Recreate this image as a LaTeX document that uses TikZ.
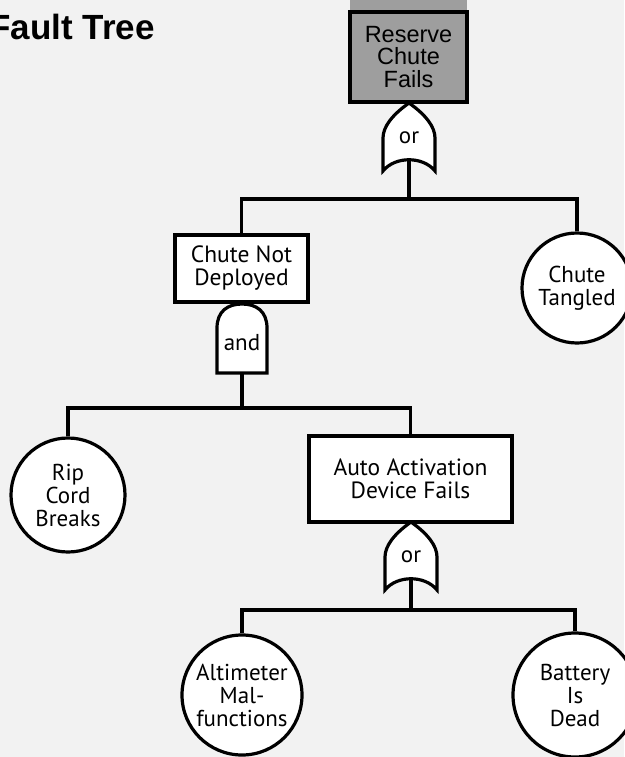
\documentclass[tikz,border=0pt]{standalone}
\usepackage{fontspec}
\newfontfamily\titlefont{Liberation Sans}
\newfontfamily\treefont{PT Sans}

\tikzset{
  conn/.style={line width=3.2pt},
  topevent/.style={rectangle,draw,line width=3.2pt,fill=black!38,inner sep=0pt,align=center,
    font=\titlefont\fontsize{23.5}{22.5}\selectfont},
  event/.style={rectangle,draw,line width=3.2pt,fill=white,inner sep=0pt,align=center,
    font=\treefont\fontsize{23.5}{23}\selectfont},
  basic/.style={circle,draw,line width=3.2pt,fill=white,inner sep=0pt,align=center,
    font=\treefont\fontsize{23}{23}\selectfont},
  gatelabel/.style={font=\treefont\fontsize{23}{23}\selectfont,inner sep=0pt},
  orgate/.pic={
    \draw[conn,fill=white] (0,0) .. controls (-17,12) and (-26,24) .. (-26,35) -- (-26,68)
      .. controls (-14,53) and (14,53) .. (26,68) -- (26,35)
      .. controls (26,24) and (17,12) .. (0,0) -- cycle;
    \node[gatelabel] (-txt) at (0,35) {or};
    \coordinate (-top) at (0,0);
    \coordinate (-bot) at (0,57);
  }
}

\begin{document}
\begin{tikzpicture}[x=1pt,y=-1pt]
  \fill[black!5] (0,0) rectangle (624,757);
  \useasboundingbox (0,0) rectangle (624,757);

  \node[anchor=base west,inner sep=0pt,font=\titlefont\bfseries\fontsize{35}{40}\selectfont] (title) at (-11,40) {Fault Tree};

  % junctions of the tree
  \coordinate (j1) at (409,199);
  \coordinate (j2) at (242,408);
  \coordinate (j3) at (411,610);

  \fill[black!38] (350,0) rectangle (467,12);
  \node[topevent,minimum width=117pt,minimum height=90pt] (rcf) at (408.5,57) {Reserve\\Chute\\Fails};
  \pic (g1) at (409,103) {orgate};

  \node[event,minimum width=133pt,minimum height=67pt] (cnd) at (241.5,268.5) {Chute Not\\Deployed};
  \node[basic,minimum size=110pt] (ct) at (577,288) {Chute\\Tangled};

  \draw[conn,fill=white] (217,373) -- (217,328) .. controls (217,311) and (228,304) .. (242,304)
    .. controls (256,304) and (267,311) .. (267,328) -- (267,373) -- cycle;
  \node[gatelabel] (and) at (242,343) {and};
  \coordinate (andbot) at (242,373);

  \node[basic,minimum size=114pt] (rcb) at (68,495) {Rip\\Cord\\Breaks};
  \node[event,minimum width=203pt,minimum height=86pt] (aad) at (410.5,479) {Auto Activation\\Device Fails};
  \pic (g2) at (411,522) {orgate};

  \node[basic,minimum size=120pt] (alt) at (242,695) {Altimeter\\Mal-\\functions};
  \node[basic,minimum size=124pt] (bat) at (575,695) {Battery\\Is\\Dead};

  \draw[conn] (g1-bot) -- (j1);
  \draw[conn] (andbot) -- (j2);
  \draw[conn] (g2-bot) -- (j3);
  \foreach \from/\to in {j1/cnd, j1/ct, j2/rcb, j2/aad, j3/alt, j3/bat}
    \draw[conn] (\from) -| (\to.north);
\end{tikzpicture}
\end{document}
